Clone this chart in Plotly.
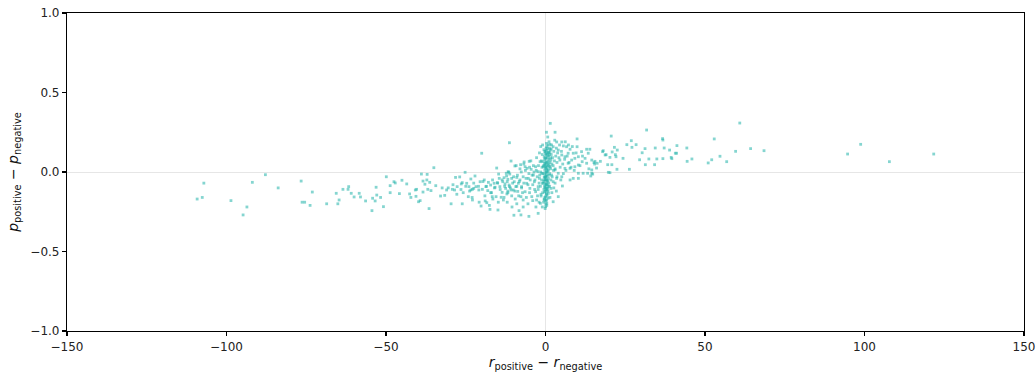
import plotly.graph_objects as go

# ---- data (x = r_pos - r_neg, y = p_pos - p_neg) ----
far_left = [(-109.2,-0.17),(-107.6,-0.16),(-107.1,-0.07),(-98.6,-0.18),(-94.8,-0.27),(-93.6,-0.22),
            (-91.9,-0.065),(-87.8,-0.017),(-83.8,-0.10),(-76.6,-0.057),(-76.3,-0.19),(-75.5,-0.19),
            (-73.8,-0.21),(-73.1,-0.126),(-68.6,-0.20),(-65.6,-0.134),(-65.1,-0.20),(-64.7,-0.176),
            (-63.5,-0.109),(-61.9,-0.109),(-61.7,-0.092),(-60.9,-0.134),(-60.0,-0.157),(-58.4,-0.134),
            (-58.0,-0.157),(-56.4,-0.182),(-54.4,-0.243),(-54.2,-0.165),(-53.4,-0.182),(-53.1,-0.096),
            (-52.9,-0.145),(-51.7,-0.16),(-50.8,-0.218),(-49.9,-0.03),(-48.7,-0.086),(-48.7,-0.13),
            (-47.5,-0.061),(-47.1,-0.069),(-45.8,-0.136),(-45.0,-0.052),(-43.5,-0.075),(-42.6,-0.138),
            (-42.2,-0.16),(-40.8,-0.113),(-40.6,-0.153),(-40.4,-0.109),(-39.8,-0.187),(-39.3,-0.18),
            (-38.9,-0.013),(-38.4,-0.057),(-38.4,-0.126),(-37.8,-0.077),(-37.2,-0.05),(-37.1,-0.015),
            (-36.9,-0.109),(-36.5,-0.23),(-36.3,-0.065),(-35.9,-0.117),(-35.0,0.027),(-34.4,-0.086),
            (-32.9,-0.151),(-32.4,-0.10),(-31.6,-0.147),(-31.0,-0.113)]

mid_left = [(-29.6,-0.20),(-29.2,-0.109),(-28.5,-0.113),(-28.2,-0.034),(-27.7,-0.092),(-26.9,-0.031),
            (-26.4,-0.075),(-26.1,-0.067),(-26.1,-0.20),(-25.8,-0.13),(-25.2,-0.002),(-24.7,-0.071),
            (-24.2,-0.155),(-24.0,-0.092),(-23.4,-0.044),(-23.4,-0.113),(-22.9,-0.176),(-22.9,-0.109),
            (-22.5,-0.103),(-22.1,-0.025),(-21.8,-0.092),(-20.9,-0.113),(-20.5,-0.061),(-20.2,-0.214),
            (-20.0,0.118),(-19.8,-0.109),(-19.2,-0.05),(-18.9,-0.182),(-18.7,-0.092),(-18.4,-0.193),
            (-18.1,-0.117),(-17.9,-0.065),(-17.6,-0.21),(-17.4,-0.235),(-17.2,-0.082),(-16.9,-0.13),
            (-16.7,-0.155),(-16.6,-0.05),(-16.1,-0.071),(-15.8,-0.096),(-15.5,-0.155),(-15.3,0.025),
            (-15.1,-0.067),(-14.9,-0.239),(-14.7,-0.013),(-14.5,-0.04),(-14.3,-0.092),(-13.9,-0.159),
            (-13.6,-0.128),(-13.4,-0.061),(-13.2,-0.176),(-13.0,-0.036),(-12.7,-0.075),(-12.5,-0.103),
            (-12.2,-0.025),(-12.0,-0.061),(-11.8,-0.13),(-11.5,-0.002),(-11.3,0.184),(-11.3,-0.092),
            (-30.5,-0.10),(-29.0,-0.08),(-27.8,-0.14),(-26.5,-0.11),(-25.0,-0.09),(-23.8,-0.12),
            (-22.5,-0.07),(-21.0,-0.09),(-20.8,-0.19),(-19.6,-0.06),(-19.0,-0.15),(-23.0,-0.16),
            (-18.5,-0.09),(-17.2,-0.13),(-16.5,-0.17),(-16.0,-0.10),(-15.0,-0.07),(-14.8,-0.19),
            (-14.2,-0.11),(-13.6,-0.05),(-13.0,-0.16),(-12.8,-0.09),(-12.0,-0.19)]

near_left = [(-10.8,0.069),(-11.7,0.002),(-12.3,-0.008),(-11.2,-0.013),(-9.6,0.038),(-7.8,0.046),
             (-6.7,0.063),(-6.4,0.033),(-5.1,0.067),(-5.8,0.023),(-4.5,0.017),(-11.8,-0.046),
             (-10.6,-0.04),(-9.8,-0.061),(-9.0,-0.034),(-8.5,-0.071),(-11.4,-0.082),(-10.8,-0.113),
             (-12.1,-0.138),(-10.1,-0.113),(-9.3,-0.092),(-8.0,-0.05),(-7.5,-0.092),(-7.0,-0.03),
             (-8.7,-0.122),(-7.7,-0.155),(-7.0,-0.176),(-6.4,-0.124),(-5.9,-0.071),(-5.4,-0.04),
             (-4.9,-0.103),(-4.3,-0.155),(-3.8,-0.019),(-3.5,-0.061),(-3.1,-0.124),(-2.8,-0.176),
             (-2.3,-0.092),(-1.9,-0.04),(-1.6,-0.197),(-2.3,-0.26),(-8.3,-0.243),(-7.7,-0.27),
             (-9.9,-0.272),(-5.2,-0.279),(-1.4,-0.151),(-1.0,-0.071),(-1.2,-0.008),(-0.7,0.033),
             (-0.4,0.096),(-0.2,0.128),(0.05,-0.03),(0.4,-0.103),(-0.4,-0.176),(0.05,-0.218),
             (-0.9,0.065),(-0.4,-0.05),(-1.7,0.065),(-3.1,0.033),(-2.4,0.002),
             (-3.6,0.0),(-4.2,-0.02),(-4.8,-0.05),(-5.5,-0.08),(-6.1,-0.04),(-6.8,-0.07),(-7.5,-0.10),
             (-8.2,-0.06),(-9.0,-0.09),(-9.6,-0.12),(-10.3,-0.07),(-11.0,-0.10),(-10.0,-0.03),
             (-8.8,-0.02),(-7.6,0.0),(-6.3,0.01),(-5.2,-0.01),(-4.0,-0.08),(-3.4,-0.11),(-5.0,-0.13),
             (-6.0,-0.16),(-7.2,-0.13),(-8.4,-0.15),(-9.5,-0.17),(-10.6,-0.15),(-11.8,-0.12),
             (-10.5,-0.22),(-9.0,-0.20),(-7.0,-0.22),(-5.5,-0.20),(-4.0,-0.18),(-3.0,-0.22),
             (-2.5,-0.15),(-2.0,-0.19),(-1.0,-0.22),(-3.8,0.04),(-5.0,0.03),(-6.8,0.05),(-8.0,0.02),
             (-9.2,0.04),(-4.6,0.07),(-2.8,0.09),(-1.9,0.12),(-1.5,0.16),(-0.9,0.17)]

core = [(0.2,0.15),(0.5,0.12),(1.0,0.10),(-0.3,0.08),(0.8,0.07),(0.1,0.05),(-0.6,0.04),(1.2,0.03),
        (0.4,0.02),(-0.2,0.01),(0.6,0.0),(-0.8,-0.01),(0.3,-0.02),(-0.4,-0.03),(0.9,-0.04),(-0.1,-0.05),
        (0.5,-0.06),(-0.7,-0.07),(0.2,-0.08),(-0.3,-0.09),(0.7,-0.10),(-0.5,-0.11),(0.0,-0.12),
        (-0.9,-0.13),(0.3,-0.14),(-0.2,-0.16),(0.1,-0.18),(-0.6,-0.19),(0.4,-0.21),(-0.1,-0.23),
        (1.5,0.14),(1.8,0.11),(2.2,0.09),(1.4,0.06),(2.0,0.05),(1.6,0.02),(2.5,0.01),(1.3,-0.01),
        (2.1,-0.03),(1.7,-0.05),(2.8,0.07),(3.2,0.10),(2.6,0.13),(1.9,0.17),(1.1,0.19),(0.7,0.22),
        (0.3,0.18),(-0.5,0.14),(-1.0,0.11),(-1.3,0.07),(-1.1,0.03),(-1.5,0.0),(-1.8,-0.02),
        (-1.2,-0.05),(-2.0,-0.07),(-1.6,-0.09),(-2.3,-0.11),(-1.4,-0.14),(-2.6,-0.03),(-2.9,0.01),
        (-3.3,-0.05),(-2.2,0.04),(0.0,0.09),(0.2,0.11),(-0.1,0.13),(0.4,0.06),(0.6,0.09),(0.9,0.12),
        (1.2,0.15),(0.1,0.03),(0.3,0.0),(-0.3,-0.01),(0.0,-0.03),(0.4,-0.05),(-0.5,-0.06),(0.6,-0.08),
        (-0.2,-0.10),(0.2,-0.11),(1.0,-0.07),(1.3,-0.09),(0.8,-0.12),(0.5,-0.15),(-0.4,-0.17),
        (0.1,-0.20),(0.3,0.25),(0.8,0.17),(1.6,0.09),(2.4,0.04),(3.0,0.02),(3.6,0.06),(4.2,0.09),
        (3.8,0.12),(4.6,0.03),(5.4,0.05),(6.0,0.08),(5.0,0.13),(4.4,0.17),(3.4,0.15),(2.9,0.20),
        (6.8,0.10),(7.4,0.06),(8.0,0.03),(6.4,0.01),(5.6,-0.01),(4.8,-0.05),(3.6,-0.03),(3.0,-0.07),
        (2.6,-0.10),(2.0,-0.13),(1.4,-0.16),(3.4,-0.12),(9.0,0.01),(10.8,0.04),(11.6,0.10),
        (13.6,0.02),(9.6,0.12),(8.4,0.16),(7.2,0.17),(6.2,0.19)]

# extra points in the darkest vertical stripe just right of x = 0
core_stripe = [(0.3,0.135),(0.6,0.105),(0.1,0.085),(0.8,0.055),(0.3,0.035),(0.5,0.015),(0.0,0.065),
               (0.7,0.040),(0.2,-0.005),(0.5,-0.025),(0.1,-0.045),(0.7,-0.055),(0.3,-0.075),
               (0.0,-0.095),(0.5,-0.115),(0.2,-0.135),(0.6,0.145),(1.0,0.125),(1.1,0.080),
               (1.0,0.045),(0.9,0.010),(1.1,-0.020),(0.9,-0.090),(1.2,0.110),(0.4,0.160),
               (0.0,0.115),(-0.2,0.055),(-0.1,0.025),(-0.3,0.045),(-0.2,-0.035),(-0.1,-0.075),
               (0.0,-0.155),(0.3,-0.175),(1.4,0.125),(1.7,0.075),(1.5,0.035),(0.8,-0.165),
               (0.4,-0.195),(-0.3,-0.125),(1.8,0.145)]

near_right = [(1.5,0.306),(3.0,0.25),(3.5,0.189),(5.1,0.189),(1.4,0.174),(2.4,0.159),(4.0,0.138),
              (5.6,0.164),(6.6,0.159),(9.9,0.208),(9.9,0.159),(7.7,0.143),(8.7,0.118),(7.1,0.118),
              (6.1,0.096),(5.1,0.107),(4.5,0.075),(8.2,0.075),(7.1,0.055),(9.2,0.086),(10.3,0.096),
              (11.3,0.128),(12.9,0.143),(13.4,0.118),(12.4,0.086),(11.5,0.065),(14.5,0.075),
              (12.9,0.055),(10.3,0.044),(9.2,0.033),(7.7,0.023),(6.1,0.023),(10.3,-0.008),
              (11.8,-0.008),(13.2,-0.008),(14.5,-0.008),(10.3,-0.04),(8.7,-0.04),(7.7,-0.05),
              (5.3,-0.088),(2.4,-0.061),(1.7,-0.103),(0.9,-0.134),(2.4,-0.187),(4.0,-0.155),
              (3.0,0.013),(4.0,-0.008),(5.1,-0.03),(3.5,-0.04),(1.9,-0.019)]

mid_right = [(13.9,0.143),(18.1,0.134),(17.9,0.128),(20.6,0.226),(21.6,0.155),(18.7,0.107),
             (19.0,0.109),(20.2,0.092),(20.9,0.126),(22.5,0.138),(21.9,0.109),(22.1,0.096),
             (25.5,0.172),(26.9,0.197),(27.1,0.155),(28.4,0.172),(31.7,0.264),(30.3,0.121),
             (31.2,0.147),(34.4,0.151),(36.7,0.21),(36.8,0.201),(37.2,0.151),(38.9,0.138),
             (40.7,0.118),(41.1,0.118),(41.2,0.166),(39.6,0.084),(39.4,0.092),(36.8,0.084),
             (34.9,0.082),(32.4,0.082),(29.5,0.077),(31.3,0.046),(34.2,0.046),(26.3,0.017),
             (24.3,0.086),(22.4,0.017),(20.8,0.046),(19.5,0.046),(20.2,-0.004),(19.7,-0.002),
             (17.2,0.067),(16.2,0.055),(15.5,0.067),(15.2,0.059),(15.4,0.05),(16.0,0.025),
             (14.5,0.013),(14.8,-0.013),(14.2,-0.025),(44.3,0.151),(44.4,0.067)]

far_right = [(45.9,0.082),(51.0,0.057),(52.1,0.077),(52.9,0.208),(54.7,0.099),(56.8,0.065),
             (59.6,0.13),(60.9,0.308),(64.3,0.147),(68.5,0.134),(94.7,0.113),(98.8,0.174),
             (107.8,0.065),(121.7,0.113)]

x_ticks = [-150, -100, -50, 0, 50, 100, 150]
x_tick_text = ["\u2212150", "\u2212100", "\u221250", "0", "50", "100", "150"]
y_ticks = [-1.0, -0.5, 0.0, 0.5, 1.0]
y_tick_text = ["\u22121.0", "\u22120.5", "0.0", "0.5", "1.0"]

groups = [far_left, mid_left, near_left, core, core_stripe, near_right, mid_right, far_right]
xs = [p[0] for g in groups for p in g]
ys = [p[1] for g in groups for p in g]

fig = go.Figure()
fig.add_trace(go.Scatter(
    x=xs, y=ys, mode="markers",
    marker=dict(symbol="square", size=2.8, color="rgba(32,178,170,0.55)", line=dict(width=0)),
    showlegend=False, hoverinfo="skip"))

font_family = "DejaVu Sans, sans-serif"
axis_common = dict(
    showline=True, linecolor="black", linewidth=1.1, mirror=True,
    ticks="outside", ticklen=4, tickwidth=1.1, tickcolor="black",
    showgrid=False, zeroline=True, zerolinecolor="#e6e6e6", zerolinewidth=1,
    tickfont=dict(family=font_family, size=12, color="#222"),
    automargin=False,
)

fig.update_xaxes(range=[-150, 150], tickvals=x_ticks, ticktext=x_tick_text,
                 title=dict(text="<i>r</i><sub>positive</sub> \u2212 <i>r</i><sub>negative</sub>",
                            font=dict(family=font_family, size=14, color="#111"), standoff=4),
                 **axis_common)
fig.update_yaxes(range=[-1, 1], tickvals=y_ticks, ticktext=y_tick_text,
                 title=dict(text="<i>p</i><sub>positive</sub> \u2212 <i>p</i><sub>negative</sub>",
                            font=dict(family=font_family, size=14, color="#111"), standoff=8),
                 **axis_common)

fig.update_layout(
    width=1036, height=374,
    margin=dict(l=67, r=12, t=13, b=43),
    paper_bgcolor="white", plot_bgcolor="white",
    font=dict(family=font_family),
)

fig.write_html("out.html",
               config={"displayModeBar": False, "staticPlot": True},
               post_script="document.body.style.margin='0';document.body.style.overflow='hidden';")
